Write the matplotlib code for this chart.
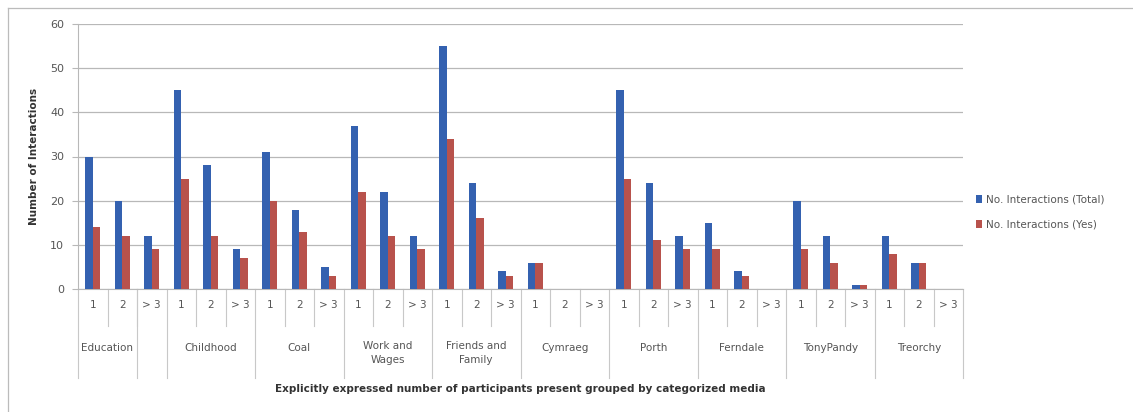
import numpy as np
import matplotlib.pyplot as plt
from matplotlib.lines import Line2D

# data
groups = ['Education', 'Childhood', 'Coal', 'Work and\nWages', 'Friends and\nFamily',
          'Cymraeg', 'Porth', 'Ferndale', 'TonyPandy', 'Treorchy']
sizes = ['1', '2', '> 3']
total = [30, 20, 12, 45, 28, 9, 31, 18, 5, 37, 22, 12, 55, 24, 4,
         6, 0, 0, 45, 24, 12, 15, 4, 0, 20, 12, 1, 12, 6, 0]
yes = [14, 12, 9, 25, 12, 7, 20, 13, 3, 22, 12, 9, 34, 16, 3,
       6, 0, 0, 25, 11, 9, 9, 3, 0, 9, 6, 1, 8, 6, 0]

blue = '#3461B0'
red = '#B8524C'
grid_c = '#B8B8B8'
txt_c = '#555555'

fig = plt.figure(figsize=(11.33, 4.12), dpi=100)
fig.patch.set_facecolor('white')
ax = fig.add_axes([78 / 1133, 1 - 289 / 412, (963 - 78) / 1133, 265 / 412])

n = len(total)
x = np.arange(n) + 0.5
w = 0.26
ax.bar(x - w / 2, total, width=w, color=blue, label='No. Interactions (Total)', zorder=3)
ax.bar(x + w / 2, yes, width=w, color=red, label='No. Interactions (Yes)', zorder=3)

ax.set_xlim(0, n)
ax.set_ylim(0, 60)
ax.set_yticks(range(0, 61, 10))
ax.yaxis.grid(True, color=grid_c, linewidth=0.9, zorder=0)
ax.tick_params(axis='y', length=4, color=grid_c, labelcolor=txt_c, labelsize=8, pad=6)
ax.set_xticks([])
for s in ['top', 'right']:
    ax.spines[s].set_visible(False)
ax.spines['left'].set_color(grid_c)
ax.spines['bottom'].set_color(grid_c)

ax.set_ylabel('Number of Interactions', fontsize=7.5, fontweight='bold', color='#333333', labelpad=8)

# multi-level category axis
tr = ax.get_xaxis_transform()
for i in range(n):
    ax.text(i + 0.5, -0.06, sizes[i % 3], transform=tr, ha='center', va='center',
            fontsize=7.5, color=txt_c)
    if i % 3 != 0:
        ax.add_line(Line2D([i, i], [0, -0.14], transform=tr, color='#C8C8C8',
                           linewidth=0.8, clip_on=False))

bounds = [0, 2, 3, 6, 9, 12, 15, 18, 21, 24, 27, 30]
for b in bounds:
    ax.add_line(Line2D([b, b], [0, -0.335], transform=tr, color='#C8C8C8',
                       linewidth=0.8, clip_on=False))

for g, name in enumerate(groups):
    cx = 1.0 if g == 0 else g * 3 + 1.5
    if '\n' in name:
        ax.text(cx, -0.195, name, transform=tr, ha='center', va='top',
                fontsize=7.5, color=txt_c, linespacing=1.5)
    else:
        ax.text(cx, -0.223, name, transform=tr, ha='center', va='center',
                fontsize=7.5, color=txt_c)

ax.text(0.5, -0.377, 'Explicitly expressed number of participants present grouped by categorized media',
        transform=ax.transAxes, ha='center', va='center', fontsize=7.5,
        fontweight='bold', color='#333333')

leg = ax.legend(loc='center left', bbox_to_anchor=(1.0, 0.29), frameon=False,
                fontsize=7.5, handlelength=0.6, handleheight=0.8, handletextpad=0.4,
                labelspacing=1.5, borderaxespad=0.8)
for t in leg.get_texts():
    t.set_color(txt_c)

# outer chart border
fig.add_artist(Line2D([8 / 1133, 8 / 1133], [0, 1 - 8 / 412], transform=fig.transFigure,
                      color='#BBBBBB', linewidth=0.9))
fig.add_artist(Line2D([8 / 1133, 1], [1 - 8 / 412, 1 - 8 / 412], transform=fig.transFigure,
                      color='#BBBBBB', linewidth=0.9))

fig.savefig('out.png', dpi=100)
